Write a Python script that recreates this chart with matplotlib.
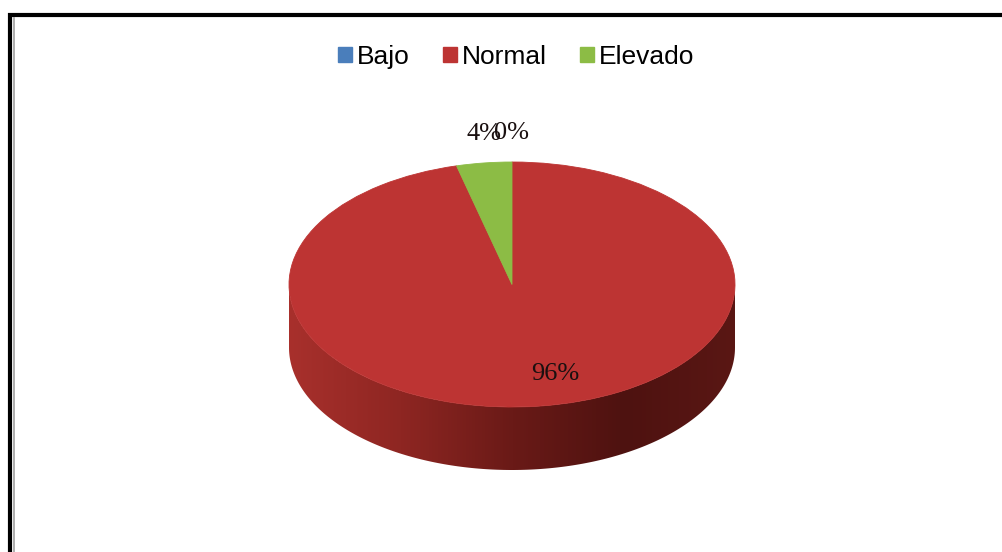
import numpy as np
import matplotlib
matplotlib.use("Agg")
import matplotlib.pyplot as plt
from matplotlib.patches import Patch, Polygon
from matplotlib.colors import LinearSegmentedColormap
from matplotlib.lines import Line2D

# ==== Data ====
categories = ["Bajo", "Normal", "Elevado"]
percentages = [0, 96, 4]
colors = ["#4a7ebb", "#bd3433", "#8cbc45"]

# ==== Geometry (pixels) ====
W, H = 1002, 552
CX, CY = 512, 284.5       # centre of the top face
RX, RY = 223, 122.5       # semi axes of the top face
DEPTH = 63 / RY           # thickness of the disc, in pie units

fig = plt.figure(figsize=(W / 100, H / 100), dpi=100)
fig.patch.set_facecolor("white")

# pie axes: unit circle maps onto the ellipse
ax = fig.add_axes([0, 0, 1, 1])
xlim = ((0 - CX) / RX, (W - CX) / RX)
ylim = ((CY - H) / RY, (CY - 0) / RY)

# side of the disc (front half), shaded left to right
t = np.linspace(np.pi, 2 * np.pi, 200)
side_xy = np.concatenate([
    np.column_stack([np.cos(t), np.sin(t)]),
    np.column_stack([np.cos(t[::-1]), np.sin(t[::-1]) - DEPTH]),
])
side = Polygon(side_xy, closed=True, facecolor="none", edgecolor="none")
ax.add_patch(side)
side_cmap = LinearSegmentedColormap.from_list(
    "side", ["#a8302c", "#8e2622", "#6a1a17", "#4e1210", "#5a1714"])
grad = np.tile(np.linspace(0, 1, 256), (32, 1))
img = ax.imshow(grad, cmap=side_cmap, extent=[-1, 1, -1 - DEPTH, 0],
                aspect="auto", origin="lower", zorder=1, interpolation="bilinear")
img.set_clip_path(side)

# top face
wedges, _ = ax.pie(percentages, colors=colors, startangle=90, counterclock=False,
                   radius=1, center=(0, 0),
                   wedgeprops=dict(linewidth=0.6, zorder=2))
for w, c in zip(wedges, colors):
    w.set_edgecolor(c)
    w.set_zorder(2)

# data labels
angle = 90.0
for name, v in zip(categories, percentages):
    span = v / sum(percentages) * 360
    mid = np.deg2rad(angle - span / 2)
    angle -= span
    if v >= 50:
        x, y = 0.74 * np.cos(mid) + 0.1, 0.74 * np.sin(mid)
    else:
        x, y = 1.0 * np.cos(mid), 1.24 * np.sin(mid)
    ax.text(x, y, f"{v:.0f}%", ha="center", va="center", fontsize=19,
            family=["Liberation Serif", "DejaVu Serif"], color="#1a1010", zorder=5)

ax.set_aspect("auto")
ax.set_xlim(*xlim)
ax.set_ylim(*ylim)
ax.axis("off")

# ==== Legend ====
handles = [Patch(facecolor=c, edgecolor=c) for c in colors]
fig.legend(handles, categories, loc="center", bbox_to_anchor=(516 / W, 1 - 57 / H),
           ncol=3, frameon=False, handlelength=0.53, handleheight=0.53,
           handletextpad=0.2, columnspacing=1.25, borderpad=0, borderaxespad=0,
           prop=dict(family=["Liberation Sans", "DejaVu Sans"], size=19))

# ==== Frame ====
fig.add_artist(Line2D([8 / W, 1], [1 - 14.7 / H] * 2, color="black", linewidth=3,
                      solid_capstyle="butt"))
fig.add_artist(Line2D([10.3 / W] * 2, [0, 1 - 12.7 / H], color="black", linewidth=3,
                      solid_capstyle="butt"))
fig.add_artist(Line2D([14.2 / W] * 2, [0, 1 - 16.7 / H], color="#a8a8a8", linewidth=1.3,
                      solid_capstyle="butt"))

fig.savefig("out.png", dpi=100, facecolor="white")
